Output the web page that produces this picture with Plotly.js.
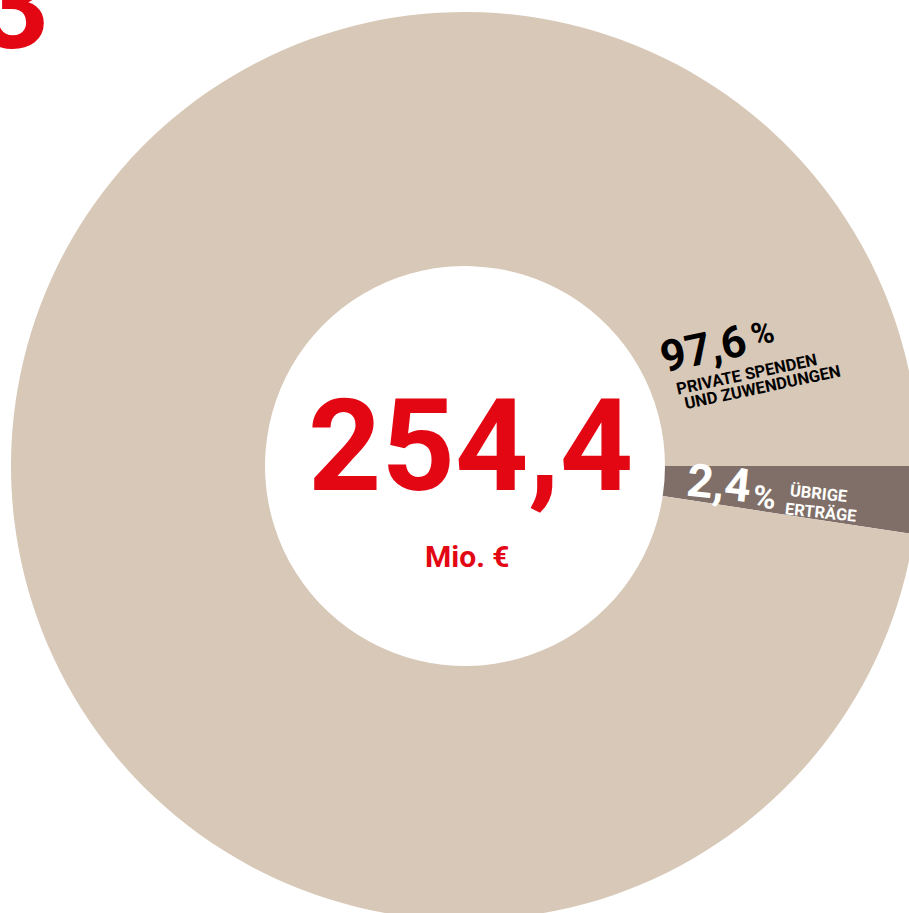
<!DOCTYPE html>
<html>
<head>
<meta charset="utf-8">
<script src="https://cdn.plot.ly/plotly-3.0.1.min.js"></script>
<style>
  html, body { margin: 0; padding: 0; overflow: hidden; background: #ffffff; }
  #chart { width: 940px; height: 940px; }
</style>
</head>
<body>
<div id="chart"></div>
<script>
// ---- data ----
const sliceLabels = ["Übrige Erträge", "Private Spenden und Zuwendungen"];
const sliceValues = [2.4, 97.6];
const totalValue = "254,4";
const totalUnit = "Mio. €";
const labelLines97 = ["PRIVATE SPENDEN", "UND ZUWENDUNGEN"];
const labelLines24 = ["ÜBRIGE", "ERTRÄGE"];

// ---- style ----
const sliceColors = ["#806f68", "#d8c8b7"];
const red = "#e30613";
const FONT = "Roboto, 'DejaVu Sans', sans-serif";
const W = 940, H = 940;
const px = x => x / W;
const py = y => 1 - y / H;
const fmt = v => v.toFixed(1).replace(".", ",");

function ann(text, x, y, size, color, angle, extra) {
  return Object.assign({
    text: text, xref: "paper", yref: "paper", x: px(x), y: py(y),
    xanchor: "center", yanchor: "middle", showarrow: false,
    textangle: angle || 0,
    font: { family: FONT, size: size, color: color, weight: 700 }
  }, extra || {});
}

const annotations = [
  ann("3", 52, 5, 125, red, 0, { xanchor: "right" }),
  ann(totalValue, 470, 446, 128, red),
  ann(totalUnit, 467, 556, 30, red),
  ann(fmt(sliceValues[1]), 703, 349, 44, "#000000", -12),
  ann("%", 762, 333, 31, "#000000", -12),
  ann(labelLines97[0], 746, 374, 16.5, "#000000", -12),
  ann(labelLines97[1], 762, 387, 16.5, "#000000", -12),
  ann(fmt(sliceValues[0]), 719, 483, 46, "#ffffff", 6),
  ann("%", 764, 497, 31, "#ffffff", 6),
  ann(labelLines24[0], 818, 493, 16.5, "#ffffff", 6),
  ann(labelLines24[1], 821, 512, 16.5, "#ffffff", 6)
];

const trace = {
  type: "pie",
  labels: sliceLabels,
  values: sliceValues,
  sort: false,
  direction: "clockwise",
  rotation: 90,
  hole: 200 / 454,
  textinfo: "none",
  hoverinfo: "skip",
  marker: { colors: sliceColors, line: { width: 0 } },
  domain: { x: [px(11), px(919)], y: [py(920), py(12)] },
  showlegend: false
};

const layout = {
  width: W, height: H,
  margin: { l: 0, r: 0, t: 0, b: 0, pad: 0 },
  paper_bgcolor: "#ffffff",
  plot_bgcolor: "#ffffff",
  showlegend: false,
  annotations: annotations
};

Plotly.newPlot("chart", [trace], layout, { staticPlot: true, displayModeBar: false });
</script>
</body>
</html>
